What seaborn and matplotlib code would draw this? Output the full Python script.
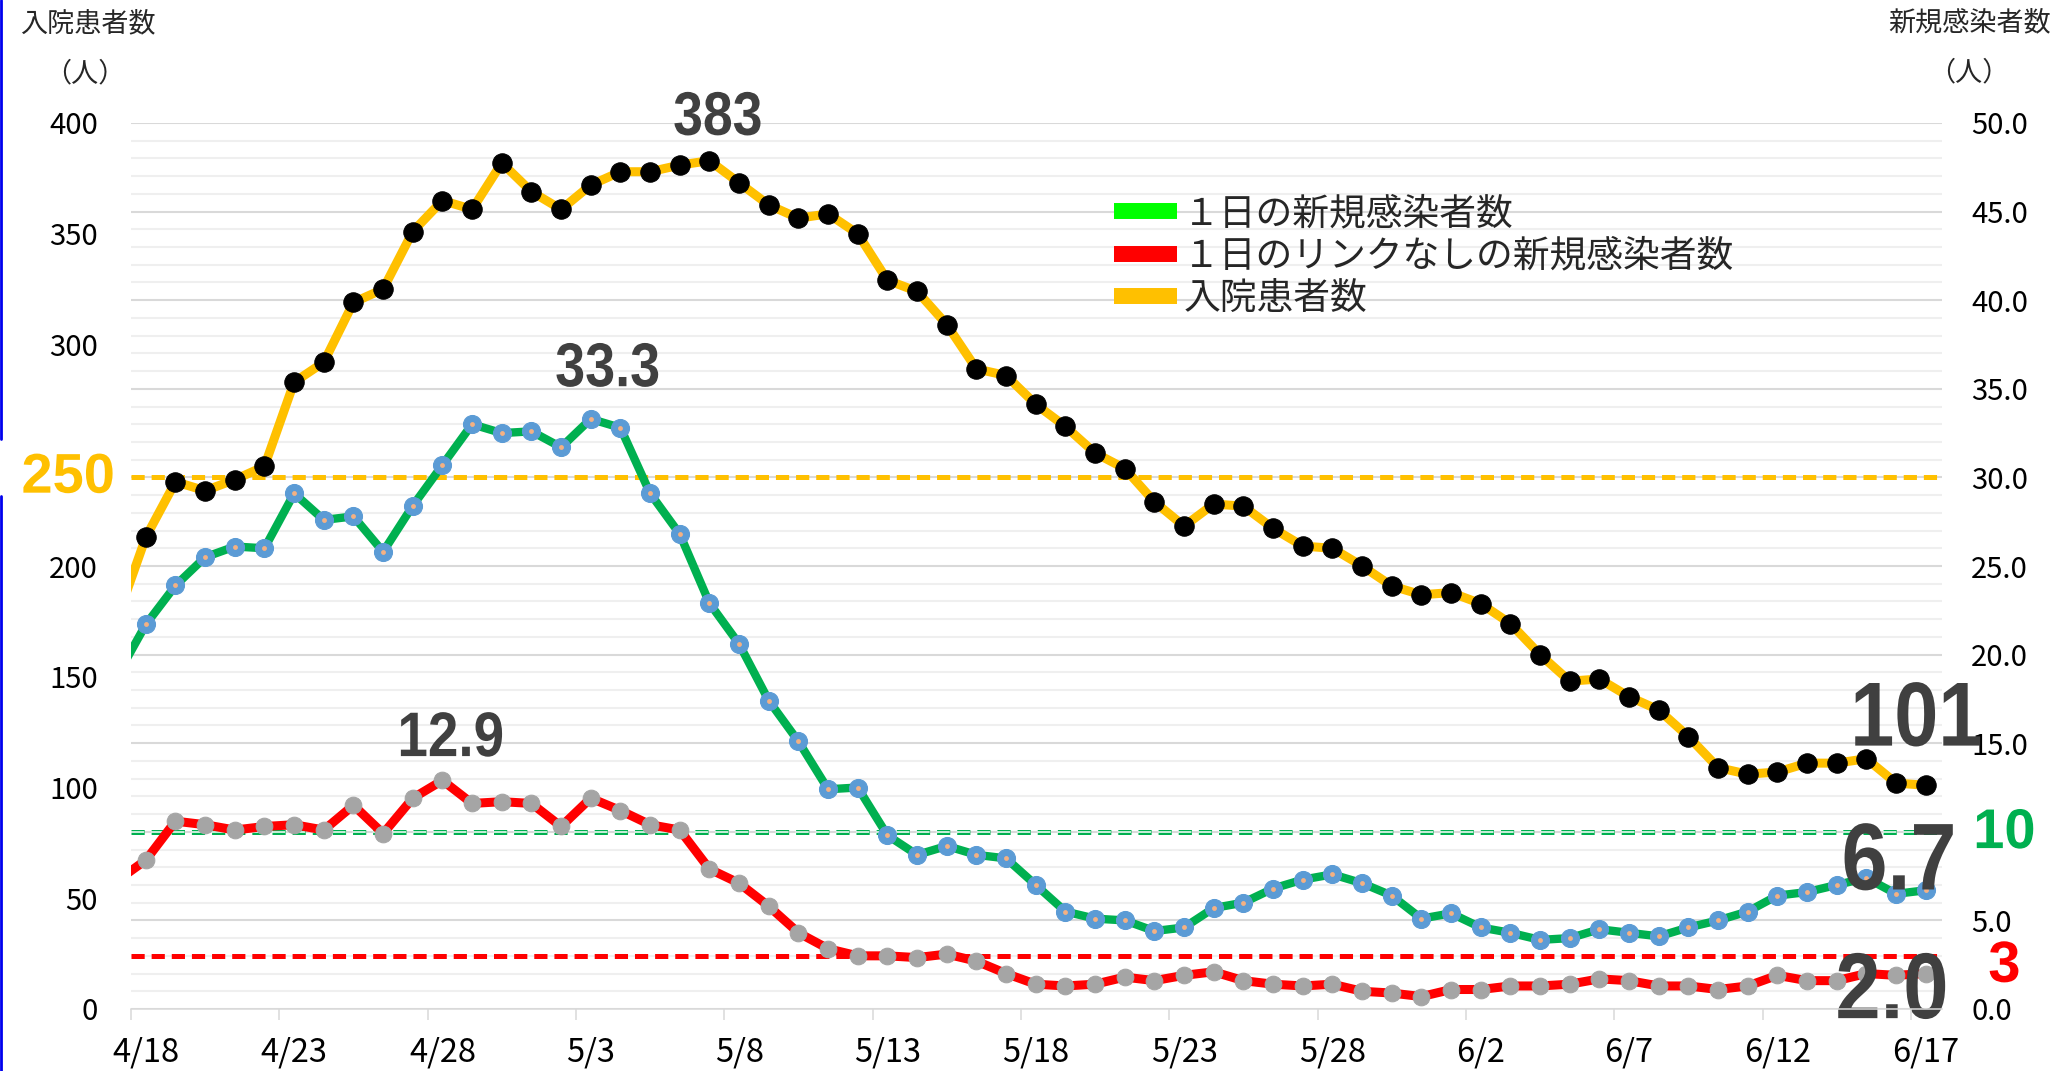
import numpy as np
import pandas as pd
import matplotlib
matplotlib.use("Agg")
import matplotlib.pyplot as plt
import seaborn as sns
from matplotlib.lines import Line2D
from matplotlib.patches import PathPatch
from matplotlib.textpath import TextPath
from matplotlib.font_manager import FontProperties
from matplotlib.transforms import Affine2D, ScaledTranslation
from matplotlib.ticker import MultipleLocator, FixedLocator

# Dates (4/17 is just before the visible range, the line runs in from the edge)
dates = pd.date_range("2021-04-17", "2021-06-17", freq="D")
date_labels = [f"{d.month}/{d.day}" for d in dates]

# 入院患者数 (left axis)
hospitalized = [175, 213, 238, 234, 239, 245, 283, 292, 319, 325, 351, 365, 361, 382, 369, 361,
                372, 378, 378, 381, 383, 373, 363, 357, 359, 350, 329, 324, 309, 289, 286, 273,
                263, 251, 244, 229, 218, 228, 227, 217, 209, 208, 200, 191, 187, 188, 183, 174,
                160, 148, 149, 141, 135, 123, 109, 106, 107, 111, 111, 113, 102, 101]

# 1日の新規感染者数 (right axis)
new_cases = [18.7, 21.7, 23.9, 25.5, 26.1, 26.0, 29.1, 27.6, 27.8, 25.8, 28.4, 30.7, 33.0, 32.5,
             32.6, 31.7, 33.3, 32.8, 29.1, 26.8, 22.9, 20.6, 17.4, 15.1, 12.4, 12.5, 9.8, 8.7,
             9.2, 8.7, 8.5, 7.0, 5.5, 5.1, 5.0, 4.4, 4.6, 5.7, 6.0, 6.8, 7.3, 7.6, 7.1, 6.4, 5.1,
             5.4, 4.6, 4.3, 3.9, 4.0, 4.5, 4.3, 4.1, 4.6, 5.0, 5.5, 6.4, 6.6, 7.0, 7.4, 6.5, 6.7]

# 1日のリンクなしの新規感染者数 (right axis)
unlinked = [7.2, 8.4, 10.6, 10.4, 10.1, 10.3, 10.4, 10.1, 11.5, 9.9, 11.9, 12.9, 11.6, 11.7,
            11.6, 10.3, 11.9, 11.2, 10.4, 10.1, 7.9, 7.1, 5.8, 4.3, 3.4, 3.0, 3.0, 2.9, 3.1, 2.7,
            2.0, 1.4, 1.3, 1.4, 1.8, 1.6, 1.9, 2.1, 1.6, 1.4, 1.3, 1.4, 1.0, 0.9, 0.7, 1.1, 1.1,
            1.3, 1.3, 1.4, 1.7, 1.6, 1.3, 1.3, 1.1, 1.3, 1.9, 1.6, 1.6, 2.0, 1.9, 2.0]

# Reference levels (all on the right scale)
hosp_line, hosp_line_label = 30, "250"
case_line, case_line_label = 10, "10"
unlinked_line, unlinked_line_label = 3, "3"

legend_labels = ["１日の新規感染者数", "１日のリンクなしの新規感染者数", "入院患者数"]

df = pd.DataFrame({"day": np.arange(-1, len(dates) - 1),
                   "hosp": hospitalized, "new": new_cases, "unlinked": unlinked})

sns.set_style("white")
plt.rcParams["font.family"] = ["Noto Sans CJK JP", "DejaVu Sans"]

W, H = 2055, 1071
fig = plt.figure(figsize=(W / 100, H / 100), dpi=100)
fig.subplots_adjust(left=131 / W, right=1942 / W, bottom=1 - 1009 / H, top=1 - 123 / H)
ax = fig.add_subplot(111)
ax2 = ax.twinx()
ax.set_zorder(ax2.get_zorder() + 1)
ax.patch.set_visible(False)

YELLOW, GREEN, RED = "#FFC000", "#00B050", "#FF0000"

# Right-axis series
sns.lineplot(data=df, x="day", y="new", ax=ax2, color=GREEN, lw=6, marker="o",
             markersize=13, markerfacecolor="#5B9BD5", markeredgecolor="#5B9BD5", zorder=3)
ax2.plot(df["day"], df["new"], ls="none", marker="o", markersize=3.5,
         markerfacecolor="#F4B183", markeredgecolor="none", zorder=4)
sns.lineplot(data=df, x="day", y="unlinked", ax=ax2, color=RED, lw=6.5, marker="o",
             markersize=12, markerfacecolor="#A5A5A5", markeredgecolor="#A5A5A5", zorder=3)

# Dashed reference lines
def dashed(y, color, lw, d=9.5, g=5):
    ax2.axhline(y, color=color, lw=lw, ls=(0, (d / lw, g / lw)), zorder=2)

dashed(hosp_line, YELLOW, 3.6)
dashed(unlinked_line, RED, 3.6)
dashed(case_line, GREEN, 3.6)
dashed(case_line, "white", 1.1)

# Left-axis series
sns.lineplot(data=df, x="day", y="hosp", ax=ax, color=YELLOW, lw=6.5, marker="o",
             markersize=14, markerfacecolor="black", markeredgecolor="black", zorder=3)

ax.set_xlim(-0.5, 60.55)
ax.set_ylim(0, 400)
ax2.set_ylim(0, 50)

# Grid from the right scale
ax2.yaxis.set_major_locator(MultipleLocator(5))
ax2.yaxis.set_minor_locator(MultipleLocator(1))
ax2.grid(which="major", axis="y", color="#D9D9D9", lw=1.5, zorder=0)
ax2.grid(which="minor", axis="y", color="#EFEFEF", lw=1.5, zorder=0)
ax2.set_yticklabels(["" if v == case_line else f"{v:.1f}" for v in ax2.get_yticks()])
ax2.tick_params(axis="y", which="both", length=0, pad=21, labelsize=21, labelcolor="black")

ax.yaxis.set_major_locator(MultipleLocator(50))
ax.set_yticklabels(["" if v == 250 else f"{v:.0f}" for v in ax.get_yticks()])
ax.tick_params(axis="y", length=0, pad=24, labelsize=21, labelcolor="black")

ax.set_xticks(np.arange(0, 61, 5))
ax.set_xticklabels([date_labels[i + 1] for i in range(0, 61, 5)])
ax.xaxis.set_minor_locator(FixedLocator(np.arange(-0.5, 61, 5)))
ax.tick_params(axis="x", which="major", length=0, pad=19.5, labelsize=23.5, labelcolor="black")
ax.tick_params(axis="x", which="minor", length=8, width=1.1, color="#D9D9D9", bottom=True)

for s in list(ax.spines.values()) + list(ax2.spines.values()):
    s.set_visible(False)
ax.spines["bottom"].set_visible(True)
ax.spines["bottom"].set_color("#D9D9D9")
ax.spines["bottom"].set_linewidth(1.1)
ax.set_xlabel("")
ax.set_ylabel("")
ax2.set_ylabel("")


def glyph_label(axis, text, x, y, dx, dy, em, color, sx=0.87, z=6):
    # text drawn as a path so the bold digits can be squeezed like the original font
    prop = FontProperties(family="Liberation Sans", weight="bold")
    tp = TextPath((0, 0), text, size=em, prop=prop)
    ext = tp.get_extents()
    cx, cy = (ext.x0 + ext.x1) / 2, (ext.y0 + ext.y1) / 2
    tr = (Affine2D().translate(-cx, -cy).scale(sx, 1).translate(dx, dy)
          + ScaledTranslation(x, y, axis.transData))
    patch = PathPatch(tp, transform=tr, facecolor=color, edgecolor="none", zorder=z,
                      clip_on=False)
    axis.add_artist(patch)


def at(arr, day):
    return arr[day + 1]

GREY = "#404040"
glyph_label(ax, f"{max(hospitalized):.0f}", 19, at(hospitalized, 19), 8, 47, 61.5, GREY)
glyph_label(ax2, f"{at(new_cases, 15):.1f}", 15, at(new_cases, 15), 16.5, 54, 62, GREY)
glyph_label(ax2, f"{at(unlinked, 10):.1f}", 10, at(unlinked, 10), 9, 46, 63, GREY)
glyph_label(ax, f"{hospitalized[-1]:.0f}", 60, hospitalized[-1], -8, 71, 91, GREY)
glyph_label(ax2, f"{new_cases[-1]:.1f}", 60, new_cases[-1], -27, 33.5, 95, GREY)
glyph_label(ax2, f"{unlinked[-1]:.1f}", 60, unlinked[-1], -34, -12.4, 93.5, GREY)

# Reference line labels
glyph_label(ax2, hosp_line_label, -0.5, hosp_line, -63, 4, 56, YELLOW, sx=1.0)
glyph_label(ax2, case_line_label, 60.55, case_line, 63, 3, 56, GREEN, sx=1.0)
glyph_label(ax2, unlinked_line_label, 60.55, unlinked_line, 62, -6, 58, RED, sx=1.0)

# Legend
handles = [Line2D([], [], color="#00FF00", lw=11.5, solid_capstyle="butt"),
           Line2D([], [], color=RED, lw=11.5, solid_capstyle="butt"),
           Line2D([], [], color=YELLOW, lw=11.5, solid_capstyle="butt")]
ax.legend(handles, legend_labels, loc="upper left", bbox_to_anchor=(1114 / W, 1 - 194 / H),
          bbox_transform=fig.transFigure, frameon=False, fontsize=26.5, handlelength=1.71,
          handletextpad=0.17, labelspacing=0.1, borderpad=0, borderaxespad=0)

# Axis titles
fig.text(20 / W, 1 - 24 / H, "入院患者数", fontsize=19.5, ha="left", va="center")
fig.text(85 / W, 1 - 74 / H, "（人）", fontsize=19.5, ha="center", va="center")
fig.text(2051 / W, 1 - 23 / H, "新規感染者数", fontsize=19.5, ha="right", va="center")
fig.text(1969 / W, 1 - 73 / H, "（人）", fontsize=19.5, ha="center", va="center")

# Blue frame edge on the left
fig.add_artist(Line2D([1.3 / W, 1.3 / W], [1, 1 - 439 / H], transform=fig.transFigure,
                      color="#0000EE", lw=2))
fig.add_artist(Line2D([1.3 / W, 1.3 / W], [1 - 496 / H, 0], transform=fig.transFigure,
                      color="#0000EE", lw=2))

fig.savefig("out.png", dpi=100)
